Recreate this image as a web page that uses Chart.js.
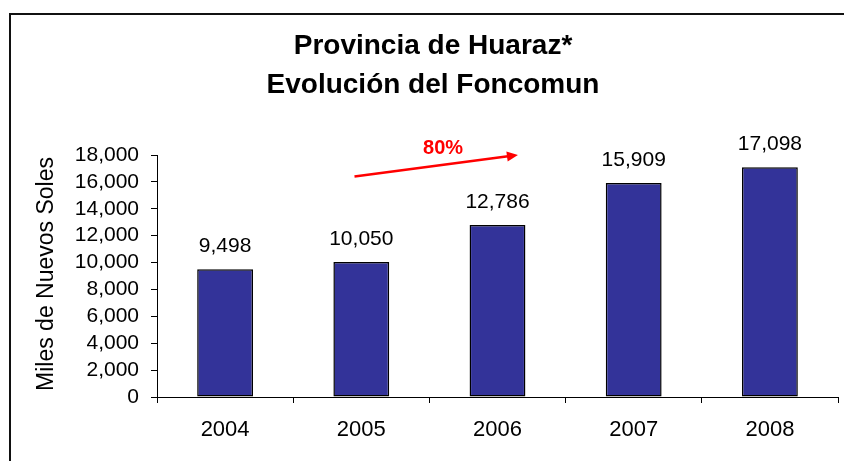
<!DOCTYPE html>
<html>
<head>
<meta charset="utf-8">
<script src="https://cdn.jsdelivr.net/npm/chart.js@4.4.0/dist/chart.umd.min.js"></script>
<style>
  html, body { margin: 0; padding: 0; background: #fff; }
  #wrap { width: 844px; height: 461px; position: relative; }
</style>
</head>
<body>
<div id="wrap"><canvas id="foncomunChart"></canvas></div>
<script>
// data
const years = ["2004", "2005", "2006", "2007", "2008"];
const foncomun = [9498, 10050, 12786, 15909, 17098];
const yTicks = [0, 2000, 4000, 6000, 8000, 10000, 12000, 14000, 16000, 18000];
const titleLines = ["Provincia de Huaraz*", "Evolución del Foncomun"];
const axisTitle = "Miles de Nuevos Soles";
const growthLabel = "80%";

const FONT = "'Liberation Sans', Arial, sans-serif";
const fmt = v => v.toLocaleString("en-US");

// frame, titles, value labels and the growth arrow
const decorations = {
  id: "decorations",
  beforeDraw(chart) {
    const ctx = chart.ctx;
    ctx.save();
    ctx.strokeStyle = "#111";
    ctx.lineWidth = 2;
    ctx.strokeRect(10, 14, 900, 500);
    ctx.restore();
  },
  afterDraw(chart) {
    const ctx = chart.ctx;
    const x = chart.scales.x, y = chart.scales.y;
    ctx.save();

    // title
    ctx.fillStyle = "#000";
    ctx.font = "bold 28px " + FONT;
    ctx.textAlign = "center";
    ctx.textBaseline = "middle";
    ctx.fillText(titleLines[0], 433, 46);
    ctx.fillText(titleLines[1], 433, 85);

    // y axis title
    ctx.save();
    ctx.translate(47, 274);
    ctx.rotate(-Math.PI / 2);
    ctx.font = "23px " + FONT;
    ctx.fillText(axisTitle, 0, 0);
    ctx.restore();

    // value labels over bars
    ctx.font = "21px " + FONT;
    ctx.textBaseline = "alphabetic";
    chart.getDatasetMeta(0).data.forEach((bar, i) => {
      ctx.fillText(fmt(foncomun[i]), bar.x, bar.y - 17);
    });

    // growth arrow 2005 -> 2006
    const x0 = x.getPixelForValue(0.95), y0 = y.getPixelForValue(16400);
    const x1 = x.getPixelForValue(2.15), y1 = y.getPixelForValue(18000);
    ctx.strokeStyle = "#ff0000";
    ctx.fillStyle = "#ff0000";
    ctx.lineWidth = 2.5;
    ctx.beginPath();
    ctx.moveTo(x0, y0);
    ctx.lineTo(x1 - 8, y1 + 1);
    ctx.stroke();
    const a = Math.atan2(y1 - y0, x1 - x0);
    ctx.beginPath();
    ctx.moveTo(x1, y1);
    ctx.lineTo(x1 - 11 * Math.cos(a) + 5 * Math.sin(a), y1 - 11 * Math.sin(a) - 5 * Math.cos(a));
    ctx.lineTo(x1 - 11 * Math.cos(a) - 5 * Math.sin(a), y1 - 11 * Math.sin(a) + 5 * Math.cos(a));
    ctx.closePath();
    ctx.fill();
    ctx.font = "bold 20px " + FONT;
    ctx.textAlign = "center";
    ctx.textBaseline = "middle";
    ctx.fillText(growthLabel, x.getPixelForValue(1.6), y.getPixelForValue(18500));

    ctx.restore();
  }
};

const ctx = document.getElementById("foncomunChart").getContext("2d");
new Chart(ctx, {
  type: "bar",
  data: {
    labels: years,
    datasets: [{
      data: foncomun,
      backgroundColor: "#333399",
      borderColor: "#000",
      borderWidth: 1.5,
      borderSkipped: false,
      categoryPercentage: 1,
      barPercentage: 0.41,
    }]
  },
  options: {
    responsive: true,
    maintainAspectRatio: false,
    animation: false,
    layout: { padding: { top: 155, right: 6, left: 0, bottom: 0 } },
    plugins: {
      legend: { display: false },
      tooltip: { enabled: false },
    },
    scales: {
      x: {
        grid: { offset: true, drawOnChartArea: false, color: "#000", tickLength: 6, tickWidth: 1 },
        border: { color: "#000", width: 1 },
        ticks: { color: "#000", font: { family: FONT, size: 22 }, padding: 14, maxRotation: 0 },
        afterFit(scale) { scale.height = 64; },
      },
      y: {
        min: 0,
        max: 18000,
        afterBuildTicks(scale) { scale.ticks = yTicks.map(v => ({ value: v })); },
        grid: { drawOnChartArea: false, color: "#000", tickLength: 6, tickWidth: 1 },
        border: { color: "#000", width: 1 },
        ticks: { color: "#000", font: { family: FONT, size: 21 }, padding: 12, autoSkip: false, callback: v => fmt(v) },
        afterFit(scale) { scale.width = 157; },
      }
    }
  },
  plugins: [decorations]
});
</script>
</body>
</html>
